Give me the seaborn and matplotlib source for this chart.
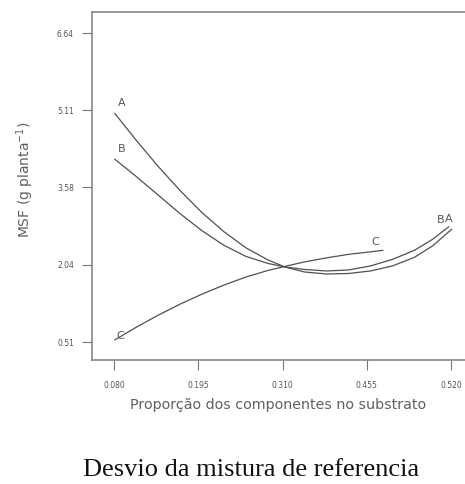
import matplotlib
matplotlib.use("Agg")
import matplotlib.pyplot as plt
import seaborn as sns
import pandas as pd

# ---- data ----
a_x = [0.081, 0.110, 0.140, 0.170, 0.200, 0.230, 0.260, 0.290, 0.313, 0.340, 0.370, 0.400,
       0.430, 0.460, 0.490, 0.515, 0.541]
a_y = [5.05, 4.52, 4.00, 3.52, 3.08, 2.70, 2.38, 2.14, 2.00, 1.90, 1.86, 1.87,
       1.92, 2.02, 2.19, 2.42, 2.75]
b_x = [0.081, 0.110, 0.140, 0.170, 0.200, 0.230, 0.260, 0.290, 0.313, 0.340, 0.370, 0.400,
       0.430, 0.460, 0.490, 0.515, 0.537]
b_y = [4.14, 3.80, 3.43, 3.06, 2.72, 2.43, 2.21, 2.07, 2.00, 1.95, 1.92, 1.94,
       2.02, 2.15, 2.33, 2.55, 2.80]
c_x = [0.081, 0.110, 0.140, 0.170, 0.200, 0.230, 0.260, 0.290, 0.313, 0.340, 0.370, 0.400,
       0.430, 0.447]
c_y = [0.55, 0.80, 1.04, 1.26, 1.46, 1.64, 1.80, 1.93, 2.01, 2.10, 2.18, 2.25,
       2.30, 2.33]

x_ticks = [0.080, 0.195, 0.310, 0.425, 0.540]
x_tick_labels = ["0.080", "0.195", "0.310", "0.455", "0.520"]
y_ticks = [0.51, 2.04, 3.58, 5.11, 6.64]
y_tick_labels = ["0.51", "2.04", "3.58", "5.11", "6.64"]

df = pd.concat([
    pd.DataFrame({"x": a_x, "y": a_y, "comp": "A"}),
    pd.DataFrame({"x": b_x, "y": b_y, "comp": "B"}),
    pd.DataFrame({"x": c_x, "y": c_y, "comp": "C"}),
])

sns.set_style("white")
plt.rcParams["font.family"] = ["DejaVu Sans"]

fig = plt.figure(figsize=(4.65, 4.84), dpi=100)
ax = fig.add_axes([92 / 465, (484 - 360) / 484, (465 - 92) / 465, (360 - 12) / 484])

line_color = "#505050"
sns.lineplot(data=df, x="x", y="y", units="comp", estimator=None, sort=False,
             color=line_color, linewidth=0.9, ax=ax, legend=False)

ax.set_xlim(0.050, 0.559)
ax.set_ylim(0.153, 7.06)
ax.set_xticks(x_ticks)
ax.set_xticklabels(x_tick_labels)
ax.set_yticks(y_ticks)
ax.set_yticklabels(y_tick_labels)
ax.tick_params(axis="both", direction="out", length=7, width=0.8, color="#777777",
               labelsize=5.5, labelcolor="#555555", bottom=True, left=True)
ax.tick_params(axis="x", pad=8)
ax.tick_params(axis="y", pad=6)

for side in ["left", "bottom", "top"]:
    ax.spines[side].set_color("#888888")
    ax.spines[side].set_linewidth(1.2)
ax.spines["right"].set_visible(False)

ax.set_xlabel("Proporção dos componentes no substrato", fontsize=10.3, color="#606060", labelpad=6)
ax.set_ylabel("MSF (g planta$^{-1}$)", fontsize=10, color="#606060")
ax.yaxis.set_label_coords(-0.150, 0.517)

lab_kw = dict(fontsize=8, color="#555555")
ax.text(a_x[0] + 0.004, a_y[0] + 0.10, "A", ha="left", va="bottom", **lab_kw)
ax.text(b_x[0] + 0.004, b_y[0] + 0.10, "B", ha="left", va="bottom", **lab_kw)
ax.text(c_x[0] + 0.002, c_y[0] - 0.02, "C", ha="left", va="bottom", **lab_kw)
ax.text(c_x[-1] - 0.016, c_y[-1] + 0.06, "C", ha="left", va="bottom", **lab_kw)
ax.text(b_x[-1] - 0.017, b_y[-1] + 0.04, "B", ha="left", va="bottom", **lab_kw)
ax.text(a_x[-1] - 0.010, a_y[-1] + 0.10, "A", ha="left", va="bottom", **lab_kw)

fig.text(251.5 / 465, (484 - 470) / 484, "Desvio da mistura de referencia",
         ha="center", va="center", fontsize=19, family="Liberation Serif", color="#111111")

fig.savefig("out.png", dpi=100)
